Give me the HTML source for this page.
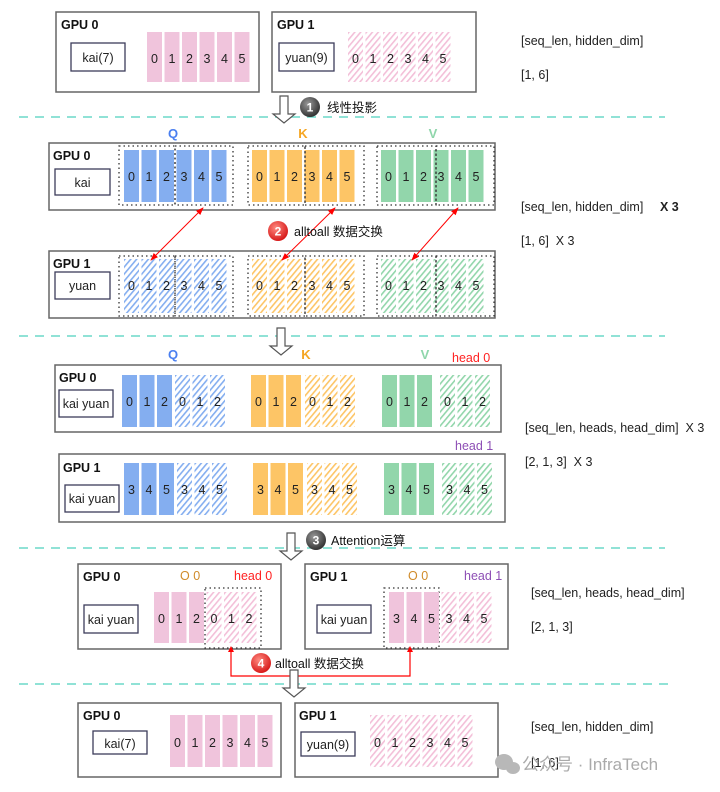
<!DOCTYPE html>
<html><head><meta charset="utf-8"><style>
html,body{margin:0;padding:0;background:#fff}
svg{display:block}
text{font-family:"Liberation Sans","Noto Sans CJK SC",sans-serif}
</style></head><body>
<svg width="720" height="792" viewBox="0 0 720 792" xmlns="http://www.w3.org/2000/svg">
<defs>
<pattern id="hp" width="4.5" height="4.5" patternUnits="userSpaceOnUse" patternTransform="rotate(40)"><rect width="4.5" height="4.5" fill="#fff"/><rect width="1.6" height="4.5" fill="#f3bfd8"/></pattern>
<pattern id="hb" width="4.5" height="4.5" patternUnits="userSpaceOnUse" patternTransform="rotate(40)"><rect width="4.5" height="4.5" fill="#fff"/><rect width="1.6" height="4.5" fill="#84aef0"/></pattern>
<pattern id="ho" width="4.5" height="4.5" patternUnits="userSpaceOnUse" patternTransform="rotate(40)"><rect width="4.5" height="4.5" fill="#fff"/><rect width="1.6" height="4.5" fill="#fdc566"/></pattern>
<pattern id="hg" width="4.5" height="4.5" patternUnits="userSpaceOnUse" patternTransform="rotate(40)"><rect width="4.5" height="4.5" fill="#fff"/><rect width="1.6" height="4.5" fill="#92d6ab"/></pattern>
<marker id="ar" markerWidth="8" markerHeight="8" refX="7" refY="4" orient="auto" markerUnits="userSpaceOnUse"><path d="M0,1 L8,4 L0,7 Z" fill="#f00"/></marker>
<marker id="as" markerWidth="8" markerHeight="8" refX="1" refY="4" orient="auto" markerUnits="userSpaceOnUse"><path d="M8,1 L0,4 L8,7 Z" fill="#f00"/></marker>
<radialGradient id="gd" cx="40%" cy="35%" r="65%"><stop offset="0" stop-color="#999"/><stop offset="1" stop-color="#333"/></radialGradient>
<radialGradient id="gr" cx="40%" cy="35%" r="65%"><stop offset="0" stop-color="#ff8a80"/><stop offset="1" stop-color="#d71a1a"/></radialGradient>
</defs>

<g stroke="#6bd9c8" stroke-width="1.5" stroke-dasharray="9,7">
<line x1="19" y1="117" x2="665" y2="117"/>
<line x1="19" y1="336" x2="665" y2="336"/>
<line x1="19" y1="548" x2="665" y2="548"/>
<line x1="19" y1="684" x2="672" y2="684"/>
</g>

<g fill="none" stroke="#666" stroke-width="1.5">
<rect x="56" y="12" width="203" height="80"/>
<rect x="272" y="12" width="204" height="80"/>
<rect x="49" y="143" width="446" height="67"/>
<rect x="49" y="251" width="446" height="67"/>
<rect x="55" y="365" width="446" height="67"/>
<rect x="59" y="454" width="446" height="68"/>
<rect x="78" y="564" width="203" height="85"/>
<rect x="305" y="564" width="203" height="85"/>
<rect x="78" y="703" width="203" height="74"/>
<rect x="295" y="703" width="203" height="74"/>
</g>
<g fill="#fff" stroke="#3c3c5a" stroke-width="1.3">
<rect x="71" y="43" width="54" height="28"/>
<rect x="279" y="43" width="55" height="28"/>
<rect x="55" y="169" width="55" height="26"/>
<rect x="55" y="272" width="55" height="27"/>
<rect x="59" y="390" width="54" height="27"/>
<rect x="65" y="485" width="54" height="27"/>
<rect x="84" y="605" width="54" height="28"/>
<rect x="317" y="605" width="54" height="28"/>
<rect x="93" y="731" width="54" height="23"/>
<rect x="301" y="732" width="54" height="24"/>
</g>
<g font-size="12.5" fill="#222" text-anchor="middle">
<text x="98" y="62">kai(7)</text>
<text x="306.5" y="62">yuan(9)</text>
<text x="82.5" y="187">kai</text>
<text x="82.5" y="290">yuan</text>
<text x="86" y="408">kai yuan</text>
<text x="92" y="503">kai yuan</text>
<text x="111" y="624">kai yuan</text>
<text x="344" y="624">kai yuan</text>
<text x="120" y="748">kai(7)</text>
<text x="328" y="749">yuan(9)</text>
</g>
<g font-size="12.5" font-weight="bold" fill="#111">
<text x="61" y="29">GPU 0</text><text x="277" y="29">GPU 1</text>
<text x="53" y="160">GPU 0</text><text x="53" y="268">GPU 1</text>
<text x="59" y="382">GPU 0</text><text x="63" y="472">GPU 1</text>
<text x="83" y="581">GPU 0</text><text x="310" y="581">GPU 1</text>
<text x="83" y="720">GPU 0</text><text x="299" y="720">GPU 1</text>
</g>

<!-- row1 -->
<g transform="translate(147,32)" font-size="12.5" fill="#222" text-anchor="middle">
<g fill="#f0c4dc"><rect x="0" width="15" height="50"/><rect x="17.5" width="15" height="50"/><rect x="35" width="15" height="50"/><rect x="52.5" width="15" height="50"/><rect x="70" width="15" height="50"/><rect x="87.5" width="15" height="50"/></g>
<text x="7.5" y="31">0</text><text x="25" y="31">1</text><text x="42.5" y="31">2</text><text x="60" y="31">3</text><text x="77.5" y="31">4</text><text x="95" y="31">5</text></g>
<g transform="translate(348,32)" font-size="12.5" fill="#222" text-anchor="middle">
<g fill="url(#hp)"><rect x="0" width="15" height="50"/><rect x="17.5" width="15" height="50"/><rect x="35" width="15" height="50"/><rect x="52.5" width="15" height="50"/><rect x="70" width="15" height="50"/><rect x="87.5" width="15" height="50"/></g>
<text x="7.5" y="31">0</text><text x="25" y="31">1</text><text x="42.5" y="31">2</text><text x="60" y="31">3</text><text x="77.5" y="31">4</text><text x="95" y="31">5</text></g>

<g font-size="12.5" fill="#222" text-anchor="middle">
<g transform="translate(124,150)"><g fill="#84aef0"><rect x="0" width="15" height="52"/><rect x="17.5" width="15" height="52"/><rect x="35" width="15" height="52"/><rect x="52.5" width="15" height="52"/><rect x="70" width="15" height="52"/><rect x="87.5" width="15" height="52"/></g><text x="7.5" y="31">0</text><text x="25" y="31">1</text><text x="42.5" y="31">2</text><text x="60" y="31">3</text><text x="77.5" y="31">4</text><text x="95" y="31">5</text></g>
<g transform="translate(252,150)"><g fill="#fdc566"><rect x="0" width="15" height="52"/><rect x="17.5" width="15" height="52"/><rect x="35" width="15" height="52"/><rect x="52.5" width="15" height="52"/><rect x="70" width="15" height="52"/><rect x="87.5" width="15" height="52"/></g><text x="7.5" y="31">0</text><text x="25" y="31">1</text><text x="42.5" y="31">2</text><text x="60" y="31">3</text><text x="77.5" y="31">4</text><text x="95" y="31">5</text></g>
<g transform="translate(381,150)"><g fill="#92d6ab"><rect x="0" width="15" height="52"/><rect x="17.5" width="15" height="52"/><rect x="35" width="15" height="52"/><rect x="52.5" width="15" height="52"/><rect x="70" width="15" height="52"/><rect x="87.5" width="15" height="52"/></g><text x="7.5" y="31">0</text><text x="25" y="31">1</text><text x="42.5" y="31">2</text><text x="60" y="31">3</text><text x="77.5" y="31">4</text><text x="95" y="31">5</text></g>
<g transform="translate(124,259)"><g fill="url(#hb)"><rect x="0" width="15" height="54"/><rect x="17.5" width="15" height="54"/><rect x="35" width="15" height="54"/><rect x="52.5" width="15" height="54"/><rect x="70" width="15" height="54"/><rect x="87.5" width="15" height="54"/></g><text x="7.5" y="31">0</text><text x="25" y="31">1</text><text x="42.5" y="31">2</text><text x="60" y="31">3</text><text x="77.5" y="31">4</text><text x="95" y="31">5</text></g>
<g transform="translate(252,259)"><g fill="url(#ho)"><rect x="0" width="15" height="54"/><rect x="17.5" width="15" height="54"/><rect x="35" width="15" height="54"/><rect x="52.5" width="15" height="54"/><rect x="70" width="15" height="54"/><rect x="87.5" width="15" height="54"/></g><text x="7.5" y="31">0</text><text x="25" y="31">1</text><text x="42.5" y="31">2</text><text x="60" y="31">3</text><text x="77.5" y="31">4</text><text x="95" y="31">5</text></g>
<g transform="translate(381,259)"><g fill="url(#hg)"><rect x="0" width="15" height="54"/><rect x="17.5" width="15" height="54"/><rect x="35" width="15" height="54"/><rect x="52.5" width="15" height="54"/><rect x="70" width="15" height="54"/><rect x="87.5" width="15" height="54"/></g><text x="7.5" y="31">0</text><text x="25" y="31">1</text><text x="42.5" y="31">2</text><text x="60" y="31">3</text><text x="77.5" y="31">4</text><text x="95" y="31">5</text></g>
</g>
<g fill="none" stroke="#333" stroke-width="1.3" stroke-dasharray="1.5,3">
<rect x="119" y="146" width="56" height="59"/><rect x="175" y="146" width="58" height="59"/>
<rect x="248" y="146" width="57" height="59"/><rect x="305" y="146" width="59" height="59"/>
<rect x="377" y="146" width="59" height="59"/><rect x="436" y="146" width="58" height="59"/>
<rect x="119" y="256" width="56" height="60"/><rect x="175" y="256" width="58" height="60"/>
<rect x="248" y="256" width="57" height="60"/><rect x="305" y="256" width="59" height="60"/>
<rect x="377" y="256" width="59" height="60"/><rect x="436" y="256" width="58" height="60"/>
<rect x="205" y="588" width="56" height="60"/><rect x="384" y="588" width="55" height="60"/>
</g>
<g stroke="#f00" stroke-width="1" marker-end="url(#ar)" marker-start="url(#as)">
<line x1="151" y1="260" x2="203" y2="208"/>
<line x1="282" y1="260" x2="335" y2="208"/>
<line x1="412" y1="260" x2="458" y2="208"/>
</g>

<g font-size="12.5" fill="#222" text-anchor="middle">
<g transform="translate(122,375)"><g fill="#84aef0"><rect x="0" width="15" height="52"/><rect x="17.5" width="15" height="52"/><rect x="35" width="15" height="52"/></g><g fill="url(#hb)"><rect x="53" width="15" height="52"/><rect x="70.5" width="15" height="52"/><rect x="88" width="15" height="52"/></g><text x="7.5" y="31">0</text><text x="25" y="31">1</text><text x="42.5" y="31">2</text><text x="60.5" y="31">0</text><text x="78" y="31">1</text><text x="95.5" y="31">2</text></g>
<g transform="translate(251,375)"><g fill="#fdc566"><rect x="0" width="15" height="52"/><rect x="17.5" width="15" height="52"/><rect x="35" width="15" height="52"/></g><g fill="url(#ho)"><rect x="54" width="15" height="52"/><rect x="71.5" width="15" height="52"/><rect x="89" width="15" height="52"/></g><text x="7.5" y="31">0</text><text x="25" y="31">1</text><text x="42.5" y="31">2</text><text x="61.5" y="31">0</text><text x="79" y="31">1</text><text x="96.5" y="31">2</text></g>
<g transform="translate(382,375)"><g fill="#92d6ab"><rect x="0" width="15" height="52"/><rect x="17.5" width="15" height="52"/><rect x="35" width="15" height="52"/></g><g fill="url(#hg)"><rect x="58" width="15" height="52"/><rect x="75.5" width="15" height="52"/><rect x="93" width="15" height="52"/></g><text x="7.5" y="31">0</text><text x="25" y="31">1</text><text x="42.5" y="31">2</text><text x="65.5" y="31">0</text><text x="83" y="31">1</text><text x="100.5" y="31">2</text></g>
<g transform="translate(124,463)"><g fill="#84aef0"><rect x="0" width="15" height="52"/><rect x="17.5" width="15" height="52"/><rect x="35" width="15" height="52"/></g><g fill="url(#hb)"><rect x="53" width="15" height="52"/><rect x="70.5" width="15" height="52"/><rect x="88" width="15" height="52"/></g><text x="7.5" y="31">3</text><text x="25" y="31">4</text><text x="42.5" y="31">5</text><text x="60.5" y="31">3</text><text x="78" y="31">4</text><text x="95.5" y="31">5</text></g>
<g transform="translate(253,463)"><g fill="#fdc566"><rect x="0" width="15" height="52"/><rect x="17.5" width="15" height="52"/><rect x="35" width="15" height="52"/></g><g fill="url(#ho)"><rect x="54" width="15" height="52"/><rect x="71.5" width="15" height="52"/><rect x="89" width="15" height="52"/></g><text x="7.5" y="31">3</text><text x="25" y="31">4</text><text x="42.5" y="31">5</text><text x="61.5" y="31">3</text><text x="79" y="31">4</text><text x="96.5" y="31">5</text></g>
<g transform="translate(384,463)"><g fill="#92d6ab"><rect x="0" width="15" height="52"/><rect x="17.5" width="15" height="52"/><rect x="35" width="15" height="52"/></g><g fill="url(#hg)"><rect x="58" width="15" height="52"/><rect x="75.5" width="15" height="52"/><rect x="93" width="15" height="52"/></g><text x="7.5" y="31">3</text><text x="25" y="31">4</text><text x="42.5" y="31">5</text><text x="65.5" y="31">3</text><text x="83" y="31">4</text><text x="100.5" y="31">5</text></g>

<g transform="translate(154,592)"><g fill="#f0c4dc"><rect x="0" width="15" height="51"/><rect x="17.5" width="15" height="51"/><rect x="35" width="15" height="51"/></g><g fill="url(#hp)"><rect x="52.5" width="15" height="51"/><rect x="70" width="15" height="51"/><rect x="87.5" width="15" height="51"/></g><text x="7.5" y="31">0</text><text x="25" y="31">1</text><text x="42.5" y="31">2</text><text x="60" y="31">0</text><text x="77.5" y="31">1</text><text x="95" y="31">2</text></g>
<g transform="translate(389,592)"><g fill="#f0c4dc"><rect x="0" width="15" height="51"/><rect x="17.5" width="15" height="51"/><rect x="35" width="15" height="51"/></g><g fill="url(#hp)"><rect x="52.5" width="15" height="51"/><rect x="70" width="15" height="51"/><rect x="87.5" width="15" height="51"/></g><text x="7.5" y="31">3</text><text x="25" y="31">4</text><text x="42.5" y="31">5</text><text x="60" y="31">3</text><text x="77.5" y="31">4</text><text x="95" y="31">5</text></g>

<g transform="translate(170,715)"><g fill="#f0c4dc"><rect x="0" width="15" height="52"/><rect x="17.5" width="15" height="52"/><rect x="35" width="15" height="52"/><rect x="52.5" width="15" height="52"/><rect x="70" width="15" height="52"/><rect x="87.5" width="15" height="52"/></g><text x="7.5" y="32">0</text><text x="25" y="32">1</text><text x="42.5" y="32">2</text><text x="60" y="32">3</text><text x="77.5" y="32">4</text><text x="95" y="32">5</text></g>
<g transform="translate(370,715)"><g fill="url(#hp)"><rect x="0" width="15" height="52"/><rect x="17.5" width="15" height="52"/><rect x="35" width="15" height="52"/><rect x="52.5" width="15" height="52"/><rect x="70" width="15" height="52"/><rect x="87.5" width="15" height="52"/></g><text x="7.5" y="32">0</text><text x="25" y="32">1</text><text x="42.5" y="32">2</text><text x="60" y="32">3</text><text x="77.5" y="32">4</text><text x="95" y="32">5</text></g>
</g>

<polyline points="231,650 231,676 410,676 410,650" fill="none" stroke="#f00" stroke-width="1.2"/>
<path d="M231,646 l-3,6 h6 z M410,646 l-3,6 h6 z" fill="#f00"/>

<g fill="#fff" stroke="#555" stroke-width="1.2">
<path d="M280,96 h8 v18 h7 l-11,9 l-11,-9 h7 z"/>
<path d="M277,328 h8 v18 h7 l-11,9 l-11,-9 h7 z"/>
<path d="M287,533 h8 v18 h7 l-11,9 l-11,-9 h7 z"/>
<path d="M290,670 h8 v18 h7 l-11,9 l-11,-9 h7 z"/>
</g>

<g font-size="12" font-weight="bold" fill="#fff" text-anchor="middle">
<circle cx="310" cy="107" r="10" fill="url(#gd)"/><text x="310" y="111.5">1</text>
<circle cx="278" cy="231" r="10" fill="url(#gr)"/><text x="278" y="235.5">2</text>
<circle cx="316" cy="540" r="10" fill="url(#gd)"/><text x="316" y="544.5">3</text>
<circle cx="261" cy="663" r="10" fill="url(#gr)"/><text x="261" y="667.5">4</text>
</g>
<g font-size="12.5" fill="#111">
<text x="327" y="112">线性投影</text>
<text x="294" y="236">alltoall 数据交换</text>
<text x="331" y="545">Attention运算</text>
<text x="275" y="668">alltoall 数据交换</text>
</g>

<g font-size="13" font-weight="bold" text-anchor="middle">
<text x="173" y="138" fill="#4a7ff0">Q</text><text x="303" y="138" fill="#f5a623">K</text><text x="433" y="138" fill="#8fd6ab">V</text>
<text x="173" y="359" fill="#4a7ff0">Q</text><text x="306" y="359" fill="#f5a623">K</text><text x="425" y="359" fill="#8fd6ab">V</text>
</g>
<g font-size="12.5">
<text x="452" y="362" fill="#f22">head 0</text>
<text x="455" y="450" fill="#8e4fb5">head 1</text>
<text x="234" y="580" fill="#f22">head 0</text>
<text x="464" y="580" fill="#8e4fb5">head 1</text>
<text x="180" y="580" fill="#d08b2a">O 0</text>
<text x="408" y="580" fill="#d08b2a">O 0</text>
</g>

<g font-size="12.5" fill="#222">
<text x="521" y="45">[seq_len, hidden_dim]</text>
<text x="521" y="79">[1, 6]</text>
<text x="521" y="211">[seq_len, hidden_dim]</text><text x="660" y="211" font-weight="bold">X 3</text>
<text x="521" y="245">[1, 6]&#160; X 3</text>
<text x="525" y="432">[seq_len, heads, head_dim]&#160; X 3</text>
<text x="525" y="466">[2, 1, 3]&#160; X 3</text>
<text x="531" y="597">[seq_len, heads, head_dim]</text>
<text x="531" y="631">[2, 1, 3]</text>
<text x="531" y="731">[seq_len, hidden_dim]</text>
<text x="531" y="767">[1, 6]</text>
</g>
<g fill="#b8b8b8"><ellipse cx="504" cy="762" rx="9" ry="8"/><ellipse cx="513" cy="768" rx="7" ry="6"/></g>
<text x="522" y="770" font-size="17" fill="#aaa">公众号 · InfraTech</text>
</svg>
</body></html>
